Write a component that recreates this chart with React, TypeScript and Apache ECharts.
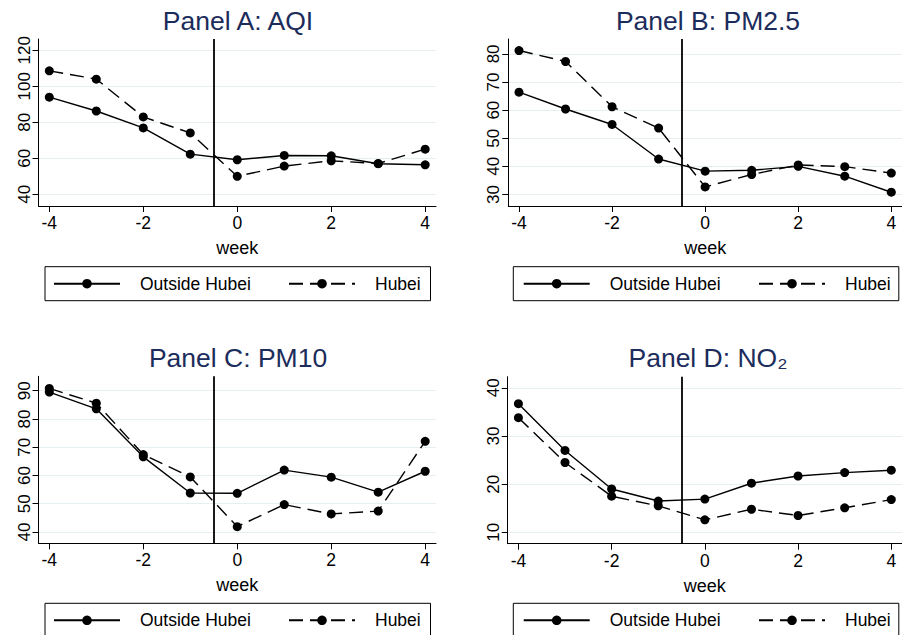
import React, { useEffect, useRef } from "react";
import * as echarts from "echarts";

const weeks = [-4, -3, -2, -1, 0, 1, 2, 3, 4];
const xTicks = [-4, -2, 0, 2, 4];

const aqiOutside = [94.0, 86.3, 76.9, 62.3, 59.2, 61.6, 61.4, 57.0, 56.4];
const aqiHubei = [108.6, 104.0, 83.0, 74.1, 50.0, 55.7, 58.6, 57.1, 65.1];
const aqiTicks = [40, 60, 80, 100, 120];

const pm25Outside = [66.4, 60.4, 54.9, 42.6, 38.3, 38.6, 40.0, 36.5, 30.8];
const pm25Hubei = [81.2, 77.3, 61.2, 53.6, 32.7, 37.1, 40.5, 39.9, 37.6];
const pm25Ticks = [30, 40, 50, 60, 70, 80];

const pm10Outside = [89.5, 83.6, 66.6, 53.8, 53.7, 61.9, 59.4, 54.1, 61.5];
const pm10Hubei = [90.8, 85.6, 67.4, 59.5, 41.9, 49.7, 46.4, 47.4, 72.1];
const pm10Ticks = [40, 50, 60, 70, 80, 90];

const no2Outside = [36.7, 27.0, 19.0, 16.5, 16.9, 20.2, 21.7, 22.4, 22.9];
const no2Hubei = [33.8, 24.5, 17.5, 15.5, 12.6, 14.8, 13.5, 15.1, 16.8];
const no2Ticks = [10, 20, 30, 40];

const titles = ["Panel A: AQI", "Panel B: PM2.5", "Panel C: PM10", "Panel D: NO\u2082"];
const seriesNames = ["Outside Hubei", "Hubei"];
const cutoffWeek = -0.5;

const FONT = "'Liberation Sans', Arial, Helvetica, sans-serif";

const panels = [
  { outside: aqiOutside, hubei: aqiHubei, ticks: aqiTicks, yMin: 33.5, yMax: 126.3, left: 38.5, top: 39, cx: 238, titleY: 21.2, legY: 283.7 },
  { outside: pm25Outside, hubei: pm25Hubei, ticks: pm25Ticks, yMin: 25.9, yMax: 85.3, left: 508.3, top: 39, cx: 708, titleY: 21.2, legY: 283.7 },
  { outside: pm10Outside, hubei: pm10Hubei, ticks: pm10Ticks, yMin: 36.0, yMax: 95.1, left: 38.5, top: 376.3, cx: 238, titleY: 357.8, legY: 620.3 },
  { outside: no2Outside, hubei: no2Hubei, ticks: no2Ticks, yMin: 7.65, yMax: 42.3, left: 507.7, top: 376.7, cx: 708, titleY: 357.8, legY: 620.3 },
];

export default function App() {
  const ref = useRef<HTMLDivElement>(null);
  useEffect(() => {
    if (!ref.current) return;
    const chart = echarts.init(ref.current, undefined, { renderer: "svg" });
    const grid: any[] = [];
    const xAxis: any[] = [];
    const yAxis: any[] = [];
    const series: any[] = [];
    const legend: any[] = [];
    const graphic: any[] = [];

    panels.forEach((p, i) => {
      grid.push({ left: p.left, top: p.top, width: 397.5, height: 167, containLabel: false });
      xAxis.push({
        type: "value",
        gridIndex: i,
        min: -4.23,
        max: 4.23,
        name: "week",
        nameLocation: "middle",
        nameGap: 33,
        nameTextStyle: { color: "#000", fontSize: 18, fontFamily: FONT },
        axisLine: { show: true, onZero: false, lineStyle: { color: "#000", width: 1 } },
        axisTick: { show: true, length: 6, customValues: xTicks, lineStyle: { color: "#000", width: 1 } },
        axisLabel: { customValues: xTicks, color: "#000", fontSize: 17.5, fontFamily: FONT, margin: 8 },
        splitLine: { show: false },
      });
      yAxis.push({
        type: "value",
        gridIndex: i,
        min: p.yMin,
        max: p.yMax,
        axisLine: { show: true, onZero: false, lineStyle: { color: "#000", width: 1 } },
        axisTick: { show: true, length: 6, customValues: p.ticks, lineStyle: { color: "#000", width: 1 } },
        axisLabel: { customValues: p.ticks, rotate: 90, color: "#000", fontSize: 17, fontFamily: FONT, margin: 6 },
        splitLine: { show: true, lineStyle: { color: "#e6eef1", width: 1 } },
      });
      series.push({
        name: seriesNames[0],
        type: "line",
        xAxisIndex: i,
        yAxisIndex: i,
        data: weeks.map((w, k) => [w, p.outside[k]]),
        symbol: "circle",
        symbolSize: 9,
        itemStyle: { color: "#000" },
        lineStyle: { color: "#000", width: 1.4, type: "solid" },
        markLine: {
          silent: true,
          symbol: "none",
          label: { show: false },
          lineStyle: { color: "#000", width: 1.8, type: "solid" },
          data: [{ xAxis: cutoffWeek }],
        },
        z: 3,
      });
      series.push({
        name: seriesNames[1],
        type: "line",
        xAxisIndex: i,
        yAxisIndex: i,
        data: weeks.map((w, k) => [w, p.hubei[k]]),
        symbol: "circle",
        symbolSize: 9,
        itemStyle: { color: "#000" },
        lineStyle: { color: "#000", width: 1.4, type: [14, 7] },
        z: 3,
      });
      const legLeft1 = i % 2 === 0 ? 53 : 522.7;
      const legLeft2 = i % 2 === 0 ? 288 : 758;
      [legLeft1, legLeft2].forEach((lx, j) => {
        legend.push({
          data: [seriesNames[j]],
          left: lx,
          top: p.legY - 10,
          padding: 0,
          itemWidth: 66,
          itemHeight: 12,
          selectedMode: false,
          textStyle: { color: "#000", fontSize: 17.5, fontFamily: FONT, padding: [0, 0, 0, 15], lineHeight: 20 },
        });
      });
      const boxX = i % 2 === 0 ? 45 : 513.3;
      graphic.push({
        type: "rect",
        shape: { x: boxX, y: p.legY - 17, width: 385.5, height: 34 },
        style: { fill: "none", stroke: "#000", lineWidth: 1 },
        silent: true,
      });
      graphic.push({
        type: "text",
        x: p.cx,
        y: p.titleY,
        style: {
          text: titles[i],
          fill: "#1c2c5b",
          font: `26.5px ${FONT}`,
          align: "center",
          verticalAlign: "middle",
        },
        silent: true,
      });
    });

    chart.setOption({
      animation: false,
      backgroundColor: "#fff",
      grid,
      xAxis,
      yAxis,
      series,
      legend,
      graphic,
    });
    return () => chart.dispose();
  }, []);
  return (
    <div
      ref={ref}
      style={{ position: "absolute", left: 0, top: 0, width: 902, height: 635, background: "#fff" }}
    />
  );
}
